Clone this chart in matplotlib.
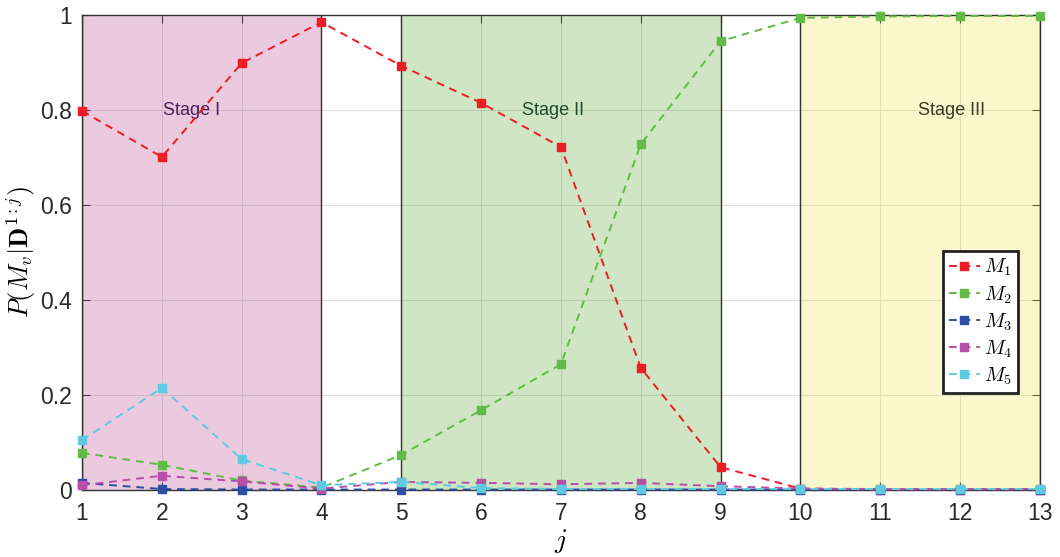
import numpy as np
import matplotlib.pyplot as plt

plt.rcParams['font.family'] = ['Liberation Sans', 'DejaVu Sans']
plt.rcParams['mathtext.fontset'] = 'cm'

# posterior model probabilities after each data block j
j = np.arange(1, 14)
p_m1 = [0.798, 0.701, 0.899, 0.985, 0.893, 0.815, 0.722, 0.257, 0.048, 0.003, 0.001, 0.001, 0.001]
p_m2 = [0.078, 0.053, 0.020, 0.005, 0.074, 0.168, 0.265, 0.728, 0.945, 0.994, 0.997, 0.998, 0.998]
p_m3 = [0.015, 0.002, 0.001, 0.001, 0.001, 0.001, 0.001, 0.001, 0.001, 0.001, 0.001, 0.001, 0.001]
p_m4 = [0.010, 0.030, 0.018, 0.003, 0.017, 0.015, 0.012, 0.015, 0.008, 0.003, 0.002, 0.002, 0.002]
p_m5 = [0.105, 0.215, 0.065, 0.010, 0.017, 0.004, 0.002, 0.002, 0.002, 0.002, 0.002, 0.002, 0.002]

series = [p_m1, p_m2, p_m3, p_m4, p_m5]
names = ['$M_1$', '$M_2$', '$M_3$', '$M_4$', '$M_5$']
colors = ['#ee1c24', '#62bb46', '#2e4ea2', '#b64fa6', '#5ccbe0']

stages = [(1, 4, 'Stage I'), (5, 9, 'Stage II'), (10, 13, 'Stage III')]
stage_fill = [(0.75, 0.32, 0.59, 0.3), (0.39, 0.67, 0.23, 0.3), (0.93, 0.90, 0.33, 0.3)]
stage_text = ['#4a1f5c', '#1f4a30', '#3a3a22']
stage_label_x = [2.37, 6.9, 11.9]

fig = plt.figure(figsize=(10.6, 5.57), dpi=100)
ax = fig.add_axes([0.0774, 0.1203, 0.9036, 0.8527])

for (a, b, lab), fc, tc, tx in zip(stages, stage_fill, stage_text, stage_label_x):
    ax.axvspan(a, b, facecolor=fc, edgecolor='none', zorder=1)
    ax.axvline(a, color='#333333', lw=1.0, zorder=1.5)
    ax.axvline(b, color='#333333', lw=1.0, zorder=1.5)
    ax.text(tx, 0.8, lab, color=tc, fontsize=13, ha='center', va='center', zorder=2)

ax.grid(True, color='#dddddd', lw=0.8, zorder=0)
ax.set_axisbelow(True)

for y, name, c in zip(series, names, colors):
    ax.plot(j, y, '--s', color=c, lw=1.4, markersize=5.5, label=name,
            dashes=(4, 3), zorder=3, clip_on=False)

ax.set_xlim(1, 13)
ax.set_ylim(0, 1)
ax.set_xticks(j)
ax.set_yticks([0, 0.2, 0.4, 0.6, 0.8, 1.0])
ax.set_yticklabels(['0', '0.2', '0.4', '0.6', '0.8', '1'])
ax.tick_params(direction='in', labelsize=16.5, length=6, width=0.8, colors='#2a2a2a',
               top=True, right=True)
ax.tick_params(axis='x', pad=9)
ax.tick_params(axis='y', pad=7)
for s in ax.spines.values():
    s.set_color('#333333')
    s.set_linewidth(1.0)

ax.set_xlabel('$j$', fontsize=20, labelpad=1)
ax.set_ylabel(r'$P(M_v|\mathbf{D}^{1:j})$', fontsize=19, labelpad=2)

leg = ax.legend(loc='center right', bbox_to_anchor=(0.977, 0.354), fontsize=14.5,
                handlelength=1.5, handletextpad=0.2, borderpad=0.3, labelspacing=0.28,
                fancybox=False, framealpha=1, edgecolor='#222222', borderaxespad=0)
leg.get_frame().set_linewidth(2.0)
leg.set_zorder(5)

fig.savefig('out.png', dpi=100)
